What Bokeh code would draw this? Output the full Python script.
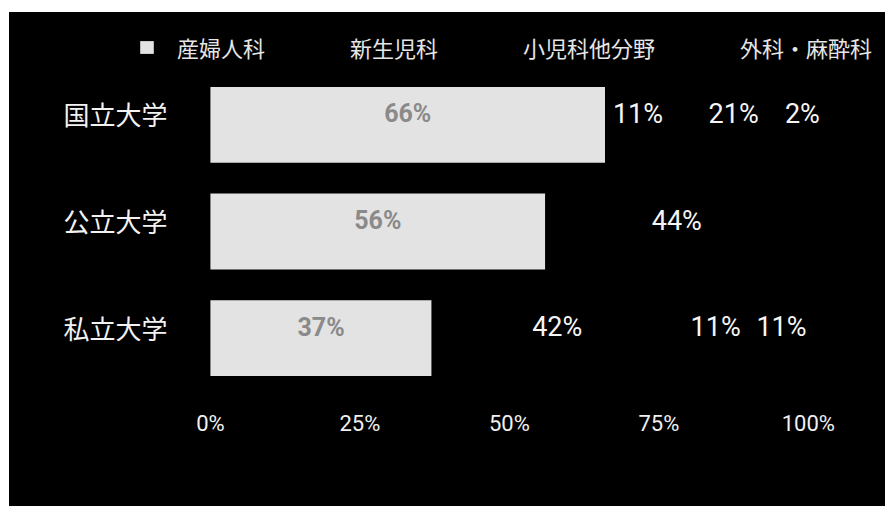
from bokeh.plotting import figure
from bokeh.models import ColumnDataSource, FactorRange, Range1d, FixedTicker, Legend
from bokeh.core.properties import value
from bokeh.embed import file_html
from bokeh.resources import INLINE

# ---- data ----
categories = ["国立大学", "公立大学", "私立大学"]
series_names = ["産婦人科", "新生児科", "小児科他分野", "外科・麻酔科"]
obgyn = [66, 56, 37]
neonatal = [11, 44, 42]
pediatrics_other = [21, 0, 11]
surgery_anesthesia = [2, 0, 11]
tick_values = [0, 25, 50, 75, 100]
tick_labels = ["0%", "25%", "50%", "75%", "100%"]

series = [obgyn, neonatal, pediatrics_other, surgery_anesthesia]
keys = ["s0", "s1", "s2", "s3"]
colors = ["#e3e3e3", "#000000", "#000000", "#000000"]

CJK = "Noto Sans CJK JP"
LAT = "Roboto"

src = ColumnDataSource(dict(cat=categories, **{k: v for k, v in zip(keys, series)}))

p = figure(
    width=876, height=494,
    y_range=FactorRange(*categories[::-1], range_padding=0.552, range_padding_units="absolute"),
    x_range=Range1d(-33.6, 112.9),
    output_backend="svg", toolbar_location=None,
    y_axis_location=None,
    min_border_left=0, min_border_right=0, min_border_top=0, min_border_bottom=56,
)
p.margin = (12, 0, 0, 9)
p.styles = {"background-color": "black"}
p.background_fill_color = "black"
p.border_fill_color = "black"
p.outline_line_color = None
p.grid.visible = False

renderers = p.hbar_stack(keys, y="cat", height=0.71, color=colors, line_color=None, source=src)

# category labels
p.text(x=[0] * len(categories), y=categories, text=categories,
       x_offset=-43, y_offset=-11, text_align="right", text_baseline="middle",
       text_color="#f2f2f2", text_font=value(CJK), text_font_size="26px")

# value labels
in_x, in_y, in_t = [], [], []
out_x, out_y, out_t = [], [], []
for ci, cat in enumerate(categories):
    left = 0
    for si, s in enumerate(series):
        v = s[ci]
        if v > 0:
            c = left + v / 2
            if si == 0:
                in_x.append(c); in_y.append(cat); in_t.append(f"{v}%")
            else:
                out_x.append(c); out_y.append(cat); out_t.append(f"{v}%")
        left += v

p.text(x=in_x, y=in_y, text=in_t, y_offset=-11, text_align="center", text_baseline="middle",
       text_color="#8a8a8a",
       text_font=value(LAT), text_font_size="25px", text_font_style="bold")
p.text(x=out_x, y=out_y, text=out_t, y_offset=-11, text_align="center", text_baseline="middle",
       text_color="#f5f5f5", text_font=value(LAT), text_font_size="27px")

# x axis
ax = p.xaxis[0]
ax.ticker = FixedTicker(ticks=tick_values)
ax.major_label_overrides = {t: l for t, l in zip(tick_values, tick_labels)}
ax.axis_line_color = None
ax.major_tick_line_color = None
ax.minor_tick_line_color = None
ax.major_tick_out = 0
ax.major_tick_in = 0
ax.major_label_standoff = -40
ax.major_label_text_color = "#f0f0f0"
ax.major_label_text_font = LAT
ax.major_label_text_font_size = "22px"

# legend
legend = Legend(items=[(n, [r]) for n, r in zip(series_names, renderers)],
                orientation="horizontal", location=(129, 387))
legend.background_fill_alpha = 0
legend.border_line_color = None
legend.margin = 0
legend.padding = 0
legend.glyph_width = 17
legend.glyph_height = 16
legend.label_standoff = 22
legend.spacing = 46
legend.label_text_color = "#e6e6e6"
legend.label_text_font = CJK
legend.label_text_font_size = "22px"
p.add_layout(legend)

open("out.html", "w").write(file_html(p, INLINE))
